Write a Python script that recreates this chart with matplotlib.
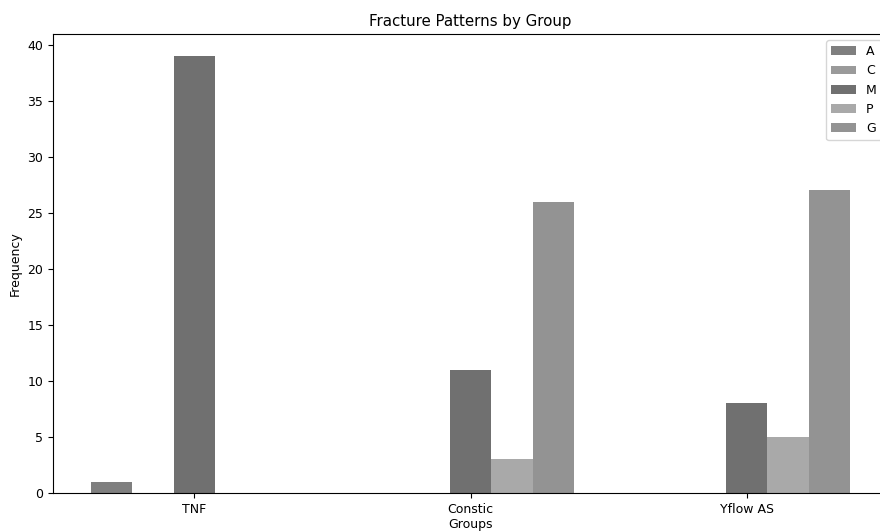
# Grouped bar chart of fracture patterns per group
import numpy as np
import matplotlib.pyplot as plt

groups = ['TNF', 'Constic', 'Yflow AS']
patterns = ['A', 'C', 'M', 'P', 'G']
counts_A = [1, 0, 0]
counts_C = [0, 0, 0]
counts_M = [39, 11, 8]
counts_P = [0, 3, 5]
counts_G = [0, 26, 27]

series = [counts_A, counts_C, counts_M, counts_P, counts_G]
colors = ['#7f7f7f', '#9a9a9a', '#707070', '#a9a9a9', '#939393']

fig = plt.figure(figsize=(8.8, 5.31), dpi=100)
ax = fig.add_axes([0.0602, 0.0716, 0.949, 0.8644])

x = np.arange(len(groups))
width = 0.15
for i, (name, vals) in enumerate(zip(patterns, series)):
    ax.bar(x + (i - 2) * width, vals, width, label=name, color=colors[i])

ax.set_xticks(x)
ax.set_xticklabels(groups, fontsize=9)
ax.tick_params(axis='y', labelsize=9)
ax.set_xlabel('Groups', fontsize=9, labelpad=2)
ax.set_ylabel('Frequency', fontsize=9)
ax.set_title('Fracture Patterns by Group', fontsize=10.8)
ax.legend(loc='upper right', fontsize=9)

fig.savefig('out.png', dpi=100)
